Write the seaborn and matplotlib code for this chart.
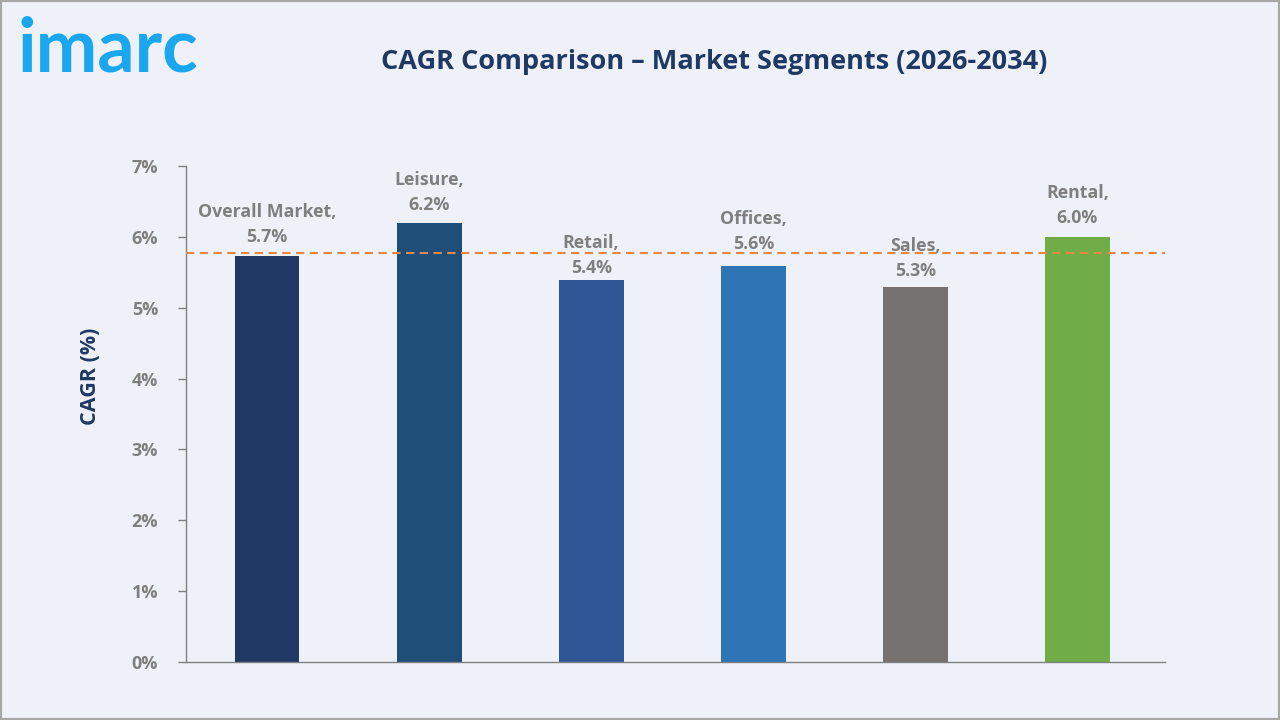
import matplotlib
matplotlib.use("Agg")
import matplotlib.pyplot as plt
import seaborn as sns
import pandas as pd
from matplotlib.patches import Rectangle

# Data
segments = ["Overall Market", "Leisure", "Retail", "Offices", "Sales", "Rental"]
cagr = [5.73, 6.2, 5.39, 5.59, 5.29, 6.0]
labels = ["5.7%", "6.2%", "5.4%", "5.6%", "5.3%", "6.0%"]
bar_colors = ["#1F3864", "#1F4E79", "#2F5597", "#2E75B6", "#767171", "#70AD47"]
reference_line = 5.77
y_ticks = [0, 1, 2, 3, 4, 5, 6, 7]

df = pd.DataFrame({"segment": segments, "cagr": cagr})

sns.set_style("white")
plt.rcParams["font.family"] = ["Open Sans", "DejaVu Sans"]

bg = "#EEF2F8"
grey = "#7F7F7F"
navy = "#1F3864"

fig = plt.figure(figsize=(12.8, 7.2), dpi=100, facecolor=bg)
ax = fig.add_axes([0.1453, 0.0806, 0.7648, 0.6889])
ax.set_facecolor(bg)

sns.barplot(data=df, x="segment", y="cagr", hue="segment", palette=bar_colors,
            width=0.4, legend=False, ax=ax, saturation=1, linewidth=0, edgecolor="none")

ax.axhline(reference_line, color="#E8864A", linestyle=(0, (4, 2.6)), linewidth=1.5, zorder=3)

# label offsets (points above bar top); Retail label sits lower in the original
offsets = [7, 6, 2, 9, 5, 7]
for i, (seg, lab, v) in enumerate(zip(segments, labels, cagr)):
    ax.annotate(f"{seg},\n{lab}", xy=(i, v), xytext=(0, offsets[i]), textcoords="offset points",
                ha="center", va="bottom", fontsize=12.8, fontweight="bold", color=grey,
                linespacing=1.5)

ax.set_ylim(0, 7)
ax.set_xlim(-0.5, len(segments) - 0.46)
ax.set_yticks(y_ticks)
ax.set_yticklabels([f"{t}%" for t in y_ticks], fontsize=13, fontweight="bold", color=grey)
ax.set_xticks([])
ax.set_xlabel("")
ax.set_ylabel("CAGR (%)", fontsize=15.5, fontweight="bold", color=navy)
ax.yaxis.set_label_coords(-0.087, 0.575)
ax.tick_params(axis="y", length=6, width=1, color=grey, pad=14, left=True)

for side in ["top", "right"]:
    ax.spines[side].set_visible(False)
for side in ["left", "bottom"]:
    ax.spines[side].set_color(grey)
    ax.spines[side].set_linewidth(1)

fig.text(0.558, 0.914, "CAGR Comparison \u2013 Market Segments (2026-2034)", ha="center", va="center",
         fontsize=19.5, fontweight="bold", color=navy)

fig.text(0.014, 0.93, "imarc", ha="left", va="center", fontsize=53, fontweight="bold",
         color="#1AA7F0", family=["Lato", "DejaVu Sans"])

fig.patches.append(Rectangle((0, 0), 1, 1, transform=fig.transFigure, fill=False,
                             edgecolor="#A6A6A6", linewidth=3))

fig.savefig("out.png", dpi=100, facecolor=bg)
